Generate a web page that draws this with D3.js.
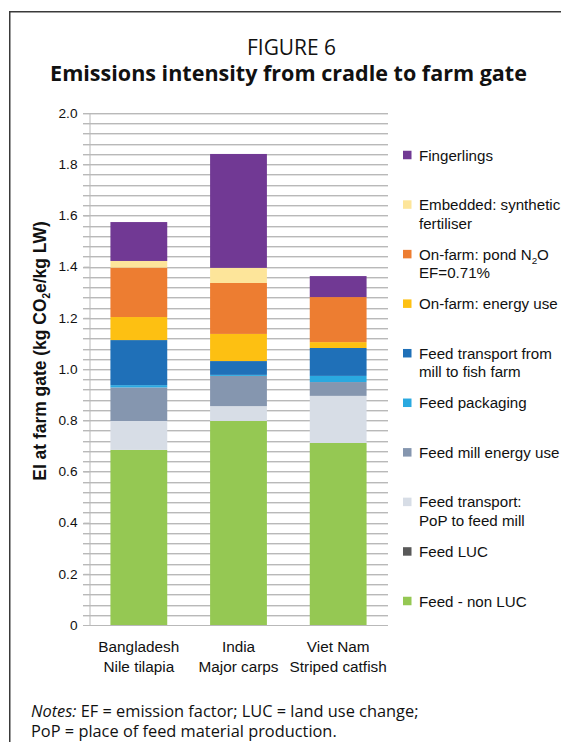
<!DOCTYPE html>
<html>
<head>
<meta charset="utf-8">
<script src="https://cdn.jsdelivr.net/npm/d3@7/dist/d3.min.js"></script>
<style>
  html, body { margin: 0; padding: 0; background: #fff; }
  svg { display: block; }
</style>
</head>
<body>
<svg id="chart" width="561" height="742"></svg>
<script>
// ---------------- DATA ----------------
const categories = ["Bangladesh|Nile tilapia", "India|Major carps", "Viet Nam|Striped catfish"];

// stack order, bottom to top
const seriesNames = [
  "Feed - non LUC",
  "Feed LUC",
  "Feed transport: PoP to feed mill",
  "Feed mill energy use",
  "Feed packaging",
  "Feed transport from mill to fish farm",
  "On-farm: energy use",
  "On-farm: pond N2O EF=0.71%",
  "Embedded: synthetic fertiliser",
  "Fingerlings"
];

// legend labels (lines; {2} = subscript 2)
const legendLabels = [
  ["Feed - non LUC"],
  ["Feed LUC"],
  ["Feed transport:", "PoP to feed mill"],
  ["Feed mill energy use"],
  ["Feed packaging"],
  ["Feed transport from", "mill to fish farm"],
  ["On-farm: energy use"],
  ["On-farm: pond N{2}O", "EF=0.71%"],
  ["Embedded: synthetic", "fertiliser"],
  ["Fingerlings"]
];

const seriesColors = [
  "#95C853", "#595959", "#D7DDE6", "#8596AF", "#2AA9E0",
  "#1F70B8", "#FDC012", "#ED7D31", "#FDE59A", "#713994"
];

// values per series, one per category (Bangladesh, India, Viet Nam)
const feedNonLUC      = [0.684, 0.797, 0.711];
const feedLUC         = [0.000, 0.000, 0.000];
const feedTransPoP    = [0.113, 0.058, 0.184];
const feedMillEnergy  = [0.131, 0.118, 0.054];
const feedPackaging   = [0.009, 0.004, 0.024];
const feedTransMill   = [0.176, 0.054, 0.109];
const onFarmEnergy    = [0.090, 0.106, 0.023];
const onFarmN2O       = [0.193, 0.199, 0.176];
const embeddedFert    = [0.026, 0.059, 0.000];
const fingerlings     = [0.152, 0.445, 0.082];

const seriesValues = [feedNonLUC, feedLUC, feedTransPoP, feedMillEnergy, feedPackaging,
  feedTransMill, onFarmEnergy, onFarmN2O, embeddedFert, fingerlings];

const yTickValues = [0, 0.2, 0.4, 0.6, 0.8, 1.0, 1.2, 1.4, 1.6, 1.8, 2.0];
const yTickLabels = ["0", "0.2", "0.4", "0.6", "0.8", "1.0", "1.2", "1.4", "1.6", "1.8", "2.0"];
const gridStep = 0.04;

// ---------------- CHART ----------------
const svg = d3.select("#chart");
const sans = "'Liberation Sans', Arial, Helvetica, sans-serif";
const titleFont = "'Open Sans', 'Noto Sans', sans-serif";

// frame
svg.append("path")
  .attr("d", "M9.75,760 V11.75 H580")
  .attr("fill", "none").attr("stroke", "#3a3a3a").attr("stroke-width", 1.5);

// helper: measure a string at a font, return font size that gives target width
function sizeFor(str, family, weight, target) {
  const t = svg.append("text").attr("font-family", family).attr("font-weight", weight)
    .attr("font-size", 20).text(str);
  const w = t.node().getComputedTextLength();
  t.remove();
  return +(20 * target / w).toFixed(2);
}
function fit(sel, target) {
  const fs = parseFloat(sel.attr("font-size"));
  const w = sel.node().getComputedTextLength();
  sel.attr("font-size", (fs * target / w).toFixed(2));
}

const tickFs = sizeFor("2.0", sans, "normal", 19);
const legendFs = sizeFor("Fingerlings", sans, "normal", 74);
const xLabFs = sizeFor("Bangladesh", sans, "normal", 81);

// titles
const t1 = svg.append("text").attr("x", 291.5).attr("y", 55).attr("text-anchor", "middle")
  .attr("font-family", titleFont).attr("font-size", 20).attr("fill", "#111").text("FIGURE 6");
fit(t1, 89);
const t2 = svg.append("text").attr("x", 288.5).attr("y", 80.5).attr("text-anchor", "middle")
  .attr("font-family", titleFont).attr("font-weight", "bold").attr("font-size", 20).attr("fill", "#111")
  .text("Emissions intensity from cradle to farm gate");
fit(t2, 477);

// scales
const x = d3.scaleBand().domain(categories).range([89, 388]).paddingInner(0.43).paddingOuter(0.215);
const y = d3.scaleLinear().domain([0, 2.0]).range([625, 113]);

// grid lines (every 0.04) extending left as ticks
const gridVals = d3.range(0, 50).map(i => +(i * gridStep + gridStep).toFixed(2));
const g = svg.append("g");
g.selectAll("line.grid2").data(gridVals).join("line")
  .attr("x1", 83).attr("x2", 388)
  .attr("y1", d => Math.round(y(d)) + 1.5).attr("y2", d => Math.round(y(d)) + 1.5)
  .attr("stroke", "#e2e2e2").attr("stroke-width", 1);
g.selectAll("line.grid").data(gridVals).join("line")
  .attr("x1", 83).attr("x2", 388)
  .attr("y1", d => Math.round(y(d)) + 0.5).attr("y2", d => Math.round(y(d)) + 0.5)
  .attr("stroke", "#b9b9b9").attr("stroke-width", 1);

// y axis
const yAxis = d3.axisLeft(y).tickValues(yTickValues).tickSize(6).tickPadding(6)
  .tickFormat((d, i) => yTickLabels[i]);
const ya = svg.append("g").attr("transform", "translate(89.5,0)").call(yAxis);
ya.select(".domain").attr("stroke", "#b9b9b9");
ya.selectAll(".tick line").attr("stroke", "#b9b9b9");
ya.selectAll(".tick text").attr("font-family", sans).attr("font-size", tickFs).attr("fill", "#111");

// bottom axis line
svg.append("line").attr("x1", 83).attr("x2", 388).attr("y1", 625.5).attr("y2", 625.5)
  .attr("stroke", "#b9b9b9");

// stacked bars
const rows = categories.map((c, i) => {
  const o = { cat: c };
  seriesNames.forEach((s, k) => o[s] = seriesValues[k][i]);
  return o;
});
const stacked = d3.stack().keys(seriesNames)(rows);
svg.append("g").selectAll("g").data(stacked).join("g")
  .attr("fill", (d, i) => seriesColors[i])
  .selectAll("rect").data(d => d).join("rect")
  .attr("x", d => x(d.data.cat))
  .attr("width", x.bandwidth())
  .attr("y", d => y(d[1]))
  .attr("height", d => Math.max(0, y(d[0]) - y(d[1])));

// x labels
categories.forEach(c => {
  const lines = c.split("|");
  const t = svg.append("text").attr("text-anchor", "middle")
    .attr("font-family", sans).attr("font-size", xLabFs).attr("fill", "#111");
  lines.forEach((ln, i) => {
    t.append("tspan").attr("x", x(c) + x.bandwidth() / 2).attr("y", 652 + i * 19.5).text(ln);
  });
});

// y title
const yt = svg.append("text")
  .attr("transform", "translate(46,351) rotate(-90)")
  .attr("text-anchor", "middle")
  .attr("font-family", sans).attr("font-weight", "bold").attr("font-size", 16).attr("fill", "#111");
yt.append("tspan").text("EI at farm gate (kg CO");
yt.append("tspan").attr("font-size", 10).attr("dy", 4).text("2");
yt.append("tspan").attr("dy", -4).text("e/kg LW)");
fit(yt, 260);
yt.selectAll("tspan").filter((d, i) => i === 1).attr("font-size", 10);

// legend (top to bottom = reverse of stack)
const legendOrder = d3.range(seriesNames.length).reverse();
const ly = d3.scalePoint().domain(legendOrder).range([155, 601]);
const lg = svg.append("g");
legendOrder.forEach(k => {
  const cy = ly(k);
  lg.append("rect").attr("x", 403).attr("y", cy - 4.25).attr("width", 8.5).attr("height", 8.5)
    .attr("fill", seriesColors[k]);
  const t = lg.append("text").attr("font-family", sans).attr("font-size", legendFs).attr("fill", "#111");
  legendLabels[k].forEach((ln, i) => {
    const base = cy + 5.5 + i * 18.5;
    const parts = ln.split(/(\{2\})/);
    let first = true;
    let shifted = false;
    parts.forEach(p => {
      if (p === "") return;
      const ts = t.append("tspan");
      if (first) { ts.attr("x", 419).attr("y", base); first = false; }
      if (p === "{2}") {
        ts.attr("font-size", legendFs * 0.65).attr("dy", 4).text("2");
        shifted = true;
      } else {
        if (shifted) { ts.attr("dy", -4); shifted = false; }
        ts.text(p);
      }
    });
  });
});

// notes
const n1 = svg.append("text").attr("x", 31).attr("y", 716.5)
  .attr("font-family", titleFont).attr("font-size", 15).attr("fill", "#111");
n1.append("tspan").attr("font-style", "italic").text("Notes:");
n1.append("tspan").text(" EF = emission factor; LUC = land use change;");
fit(n1, 388);
const nfs = parseFloat(n1.attr("font-size"));
svg.append("text").attr("x", 31).attr("y", 737)
  .attr("font-family", titleFont).attr("font-size", nfs).attr("fill", "#111")
  .text("PoP = place of feed material production.");
</script>
</body>
</html>
